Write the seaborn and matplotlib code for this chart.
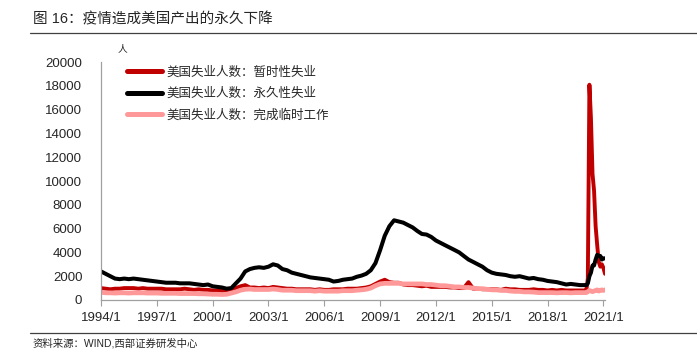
import numpy as np
import pandas as pd
import matplotlib
matplotlib.use('Agg')
import matplotlib.pyplot as plt
from matplotlib.lines import Line2D
import seaborn as sns

# quarterly readings 1994Q1-2019Q4, then monthly 2020/1-2021/2 (thousand people)
quarters = pd.date_range('1994-01-01', '2019-10-01', freq='QS')
months = pd.date_range('2020-01-01', '2021-02-01', freq='MS')

temp_layoff_q = [
    1000, 950, 900, 950, 950, 1000, 1000, 1000, 950, 1000, 950, 950,
    950, 950, 900, 900, 900, 900, 950, 900, 850, 900, 850, 850,
    800, 800, 750, 800, 900, 1000, 1150, 1250, 1050, 1050, 1000, 1050,
    1000, 1100, 1050, 1000, 950, 950, 900, 900, 900, 900, 850, 900,
    850, 850, 900, 900, 900, 950, 950, 950, 1000, 1050, 1150, 1350,
    1550, 1700, 1500, 1450, 1450, 1300, 1250, 1250, 1200, 1150, 1200, 1100,
    1100, 1100, 1100, 1050, 1050, 1000, 1000, 1500, 950, 950, 900, 900,
    900, 900, 850, 950, 900, 900, 850, 850, 850, 900, 850, 850,
    800, 850, 800, 850, 800, 800, 800, 800,
]
temp_layoff_m = [800, 800, 1800, 18100, 15300, 10600, 9200, 6200, 4600, 3200, 2800, 3000, 2700, 2200]

permanent_q = [
    2400, 2200, 2000, 1800, 1750, 1800, 1750, 1800, 1750, 1700, 1650, 1600,
    1550, 1500, 1450, 1450, 1450, 1400, 1400, 1400, 1350, 1300, 1250, 1300,
    1150, 1100, 1050, 950, 1000, 1400, 1800, 2400, 2600, 2700, 2750, 2700,
    2800, 3000, 2900, 2600, 2500, 2300, 2200, 2100, 2000, 1900, 1850, 1800,
    1750, 1700, 1550, 1600, 1700, 1750, 1800, 1950, 2050, 2200, 2500, 3100,
    4200, 5400, 6200, 6700, 6600, 6500, 6300, 6100, 5800, 5550, 5500, 5300,
    5000, 4800, 4600, 4400, 4200, 4000, 3700, 3400, 3200, 3000, 2800, 2500,
    2300, 2200, 2150, 2100, 2000, 1950, 2000, 1900, 1800, 1850, 1750, 1700,
    1600, 1550, 1500, 1400, 1300, 1350, 1300, 1250,
]
permanent_m = [1250, 1250, 1400, 2000, 2300, 2900, 2900, 3400, 3800, 3700, 3700, 3400, 3500, 3500]

temp_job_q = [
    650, 600, 600, 580, 600, 600, 580, 600, 600, 600, 580, 580,
    580, 560, 560, 560, 560, 540, 540, 540, 540, 520, 520, 500,
    480, 480, 460, 480, 580, 680, 820, 900, 920, 880, 880, 880,
    880, 920, 880, 820, 820, 820, 780, 780, 780, 780, 740, 780,
    740, 740, 740, 740, 780, 780, 780, 820, 850, 900, 1000, 1200,
    1350, 1400, 1400, 1400, 1400, 1350, 1350, 1350, 1350, 1350, 1300, 1300,
    1250, 1200, 1200, 1150, 1100, 1100, 1050, 1050, 1000, 950, 950, 900,
    850, 850, 800, 800, 750, 720, 720, 680, 680, 660, 620, 620,
    620, 620, 600, 620, 620, 600, 620, 620,
]
temp_job_m = [620, 620, 700, 800, 750, 700, 750, 800, 850, 750, 800, 850, 800, 850]

series_names = ['美国失业人数：暂时性失业', '美国失业人数：永久性失业', '美国失业人数：完成临时工作']
series_colors = ['#C00000', '#000000', '#FF9999']
tick_years = list(range(1994, 2022, 3))

dates = quarters.append(months)
df = pd.DataFrame({
    'date': dates,
    series_names[0]: temp_layoff_q + temp_layoff_m,
    series_names[1]: permanent_q + permanent_m,
    series_names[2]: temp_job_q + temp_job_m,
})

sns.set_style('white')
plt.rcParams['font.family'] = ['Liberation Sans', 'Noto Sans CJK SC']

fig = plt.figure(figsize=(6.97, 3.55), dpi=100)
ax = fig.add_axes([0.145, 0.155, 0.723, 0.67])

# red first, pink over it, black on top
for name, color, lw in [(series_names[0], series_colors[0], 2.8),
                        (series_names[2], series_colors[2], 3.4),
                        (series_names[1], series_colors[1], 2.9)]:
    sns.lineplot(data=df, x='date', y=name, color=color, linewidth=lw, ax=ax, legend=False)

ax.set_ylim(0, 20000)
ax.set_yticks(range(0, 20001, 2000))
ax.set_xlim(pd.Timestamp('1994-01-01'), pd.Timestamp('2021-02-01'))
ax.set_xticks([pd.Timestamp(f'{y}-01-01') for y in tick_years])
ax.set_xticklabels([f'{y}/1' for y in tick_years])
ax.set_xlabel('')
ax.set_ylabel('')
ax.tick_params(axis='x', which='both', bottom=True, length=4, color='#A0A0A0',
               labelsize=9.5, pad=5)
ax.tick_params(axis='y', left=False, labelsize=9.5, pad=10)
for s in ['top', 'right']:
    ax.spines[s].set_visible(False)
for s in ['left', 'bottom']:
    ax.spines[s].set_color('#A0A0A0')
    ax.spines[s].set_linewidth(0.9)
ax.grid(False)

handles = [Line2D([0], [0], color=c, lw=3.6) for c in series_colors]
ax.legend(handles, series_names, loc='upper left', bbox_to_anchor=(0.03, 1.03),
          frameon=False, fontsize=9, handlelength=2.8, handletextpad=0.3,
          labelspacing=0.75)

fig.text(0.169, 0.855, '人', fontsize=7)

fig.text(0.047, 0.945, '图 16：疫情造成美国产出的永久下降', fontsize=10.5, va='center')
fig.add_artist(Line2D([0.043, 1.0], [0.907, 0.907], color='#404040', lw=0.9))
fig.add_artist(Line2D([0.043, 1.0], [0.062, 0.062], color='#404040', lw=0.9))
fig.text(0.047, 0.033, '资料来源：WIND,西部证券研发中心', fontsize=7.5, va='center')

fig.savefig('out.png', dpi=100)
